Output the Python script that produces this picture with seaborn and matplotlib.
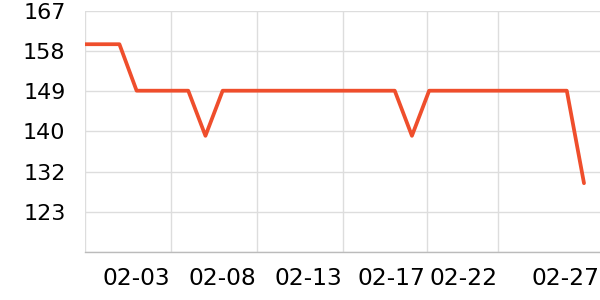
import matplotlib
matplotlib.use("Agg")
import matplotlib.pyplot as plt
import seaborn as sns
import pandas as pd

# data (30 consecutive observations)
values = [159.6, 159.6, 159.6, 149.4, 149.4, 149.4, 149.4, 139.5, 149.4, 149.4,
          149.4, 149.4, 149.4, 149.4, 149.4, 149.4, 149.4, 149.4, 149.4, 139.5,
          149.4, 149.4, 149.4, 149.4, 149.4, 149.4, 149.4, 149.4, 149.4, 129.1]
x_index = list(range(len(values)))

tick_labels = ["02-03", "02-08", "02-13", "02-17", "02-22", "02-27"]
tick_label_pos = [3, 8, 13, 17.8, 22, 27.9]
grid_x = [0, 5, 10, 15, 19.85, 24]
y_tick_labels = ["123", "132", "140", "149", "158", "167"]
y_min, y_max = 114, 167

df = pd.DataFrame({"x": x_index, "v": values})

sns.set_theme(style="white")
fig = plt.figure(figsize=(6, 3), dpi=100)
ax = fig.add_axes([85/600, 48/300, 515/600, 241.5/300])

sns.lineplot(data=df, x="x", y="v", ax=ax, color="#ef4e2c", linewidth=2.7, zorder=3)

ax.set_xlim(0, 29.93)
ax.set_ylim(y_min, y_max)

step = (y_max - y_min) / 6
yt = [y_min + step * (i + 1) for i in range(6)]
ax.set_yticks(yt)
ax.set_yticklabels(y_tick_labels)
ax.set_yticks([y_min], minor=True)

ax.set_xticks(grid_x)
ax.set_xticklabels([])
ax.set_xticks(tick_label_pos, minor=True)
ax.set_xticklabels(tick_labels, minor=True)

ax.grid(True, which="major", color="#dddddd", linewidth=1)
ax.grid(True, which="minor", axis="y", color="#dddddd", linewidth=1)
ax.tick_params(axis="x", which="major", length=3, color="#bbbbbb", width=1)
ax.tick_params(axis="x", which="minor", length=0, pad=10.5, labelsize=16.8, labelcolor="black")
ax.tick_params(axis="y", which="major", length=3, color="#dddddd", pad=11, labelsize=16, labelcolor="black")
ax.tick_params(axis="y", which="minor", length=0)
ax.set_xlabel("")
ax.set_ylabel("")
for s in ["top", "right", "left"]:
    ax.spines[s].set_visible(False)
ax.spines["bottom"].set_color("#bbbbbb")
ax.spines["bottom"].set_linewidth(1)
ax.set_axisbelow(True)

fig.savefig("out.png", dpi=100)
